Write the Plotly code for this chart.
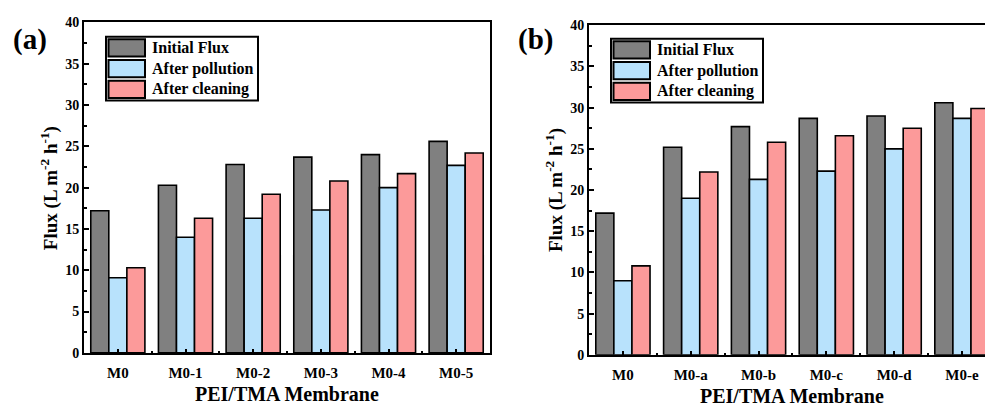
import plotly.graph_objects as go

# ---- data ----
series_names = ["Initial Flux", "After pollution", "After cleaning"]
series_colors = ["#808080", "#B8E2FC", "#FC9A9A"]

categories_a = ["M0", "M0-1", "M0-2", "M0-3", "M0-4", "M0-5"]
initial_a = [17.2, 20.3, 22.8, 23.7, 24.0, 25.6]
pollution_a = [9.1, 14.0, 16.3, 17.3, 20.0, 22.7]
cleaning_a = [10.3, 16.3, 19.2, 20.8, 21.7, 24.2]

categories_b = ["M0", "M0-a", "M0-b", "M0-c", "M0-d", "M0-e"]
initial_b = [17.2, 25.2, 27.7, 28.7, 29.0, 30.6]
pollution_b = [9.0, 19.0, 21.3, 22.3, 25.0, 28.7]
cleaning_b = [10.8, 22.2, 25.8, 26.6, 27.5, 29.9]

y_tick_values = [0, 5, 10, 15, 20, 25, 30, 35, 40]

W, H = 985, 411
SERIF = "Liberation Serif, Times New Roman, DejaVu Serif, serif"


def px(x):
    return x / W


def py(y):
    return 1 - y / H


def font(size):
    return dict(family=SERIF, size=size, color="black", weight="bold")


fig = go.Figure()

panels = [
    ("x", "y", categories_a, [initial_a, pollution_a, cleaning_a]),
    ("x2", "y2", categories_b, [initial_b, pollution_b, cleaning_b]),
]
for xa, ya, cats, series in panels:
    pos = list(range(len(cats)))
    for name, color, vals in zip(series_names, series_colors, series):
        fig.add_trace(go.Bar(
            x=pos, y=vals, name=name, xaxis=xa, yaxis=ya,
            marker=dict(color=color, line=dict(color="black", width=1.6)),
            showlegend=False,
        ))


def x_axis(domain, rng, cats, anchor):
    n = len(cats)
    return dict(
        domain=domain, range=rng, anchor=anchor,
        tickmode="array", tickvals=list(range(n)), ticktext=cats,
        ticks="inside", ticklen=4, tickwidth=1.5, tickcolor="black",
        minor=dict(tickvals=[i + 0.5 for i in range(n)], ticks="inside",
                   ticklen=2, tickwidth=1.5, tickcolor="black"),
        showline=True, linewidth=2, linecolor="black", mirror=True,
        showgrid=False, zeroline=False, tickfont=font(15), fixedrange=True,
        ticklabelstandoff=5,
    )


def y_axis(domain, anchor, mirror):
    return dict(
        domain=domain, range=[0, 40], anchor=anchor,
        tickmode="array", tickvals=y_tick_values,
        ticks="inside", ticklen=5, tickwidth=1.5, tickcolor="black",
        minor=dict(dtick=2.5, tick0=0, ticks="inside", ticklen=3,
                   tickwidth=1.5, tickcolor="black"),
        showline=True, linewidth=2, linecolor="black", mirror=mirror,
        showgrid=False, zeroline=False, tickfont=font(14), fixedrange=True,
    )


fig.update_layout(
    width=W, height=H,
    margin=dict(l=0, r=0, t=0, b=0),
    paper_bgcolor="white", plot_bgcolor="white",
    barmode="group", bargap=0.2, bargroupgap=0,
    xaxis=x_axis([px(84), px(490)], [-0.5, 5.5], categories_a, "y"),
    yaxis=y_axis([py(359), py(16)], "x", True),
    xaxis2=x_axis([px(589), 1.0], [-0.5, 5.34], categories_b, "y2"),
    yaxis2=y_axis([py(361), py(19)], "x2", False),
    showlegend=False,
)

annotations = []
shapes = []


def text(t, x, y, size, xref="paper", xanchor="center", angle=0):
    annotations.append(dict(text=t, x=x, y=y, xref=xref, yref="paper",
                            xanchor=xanchor, yanchor="middle", textangle=angle,
                            showarrow=False, font=font(size)))


# panel letters and axis titles
text("(a)", px(30), py(34), 29)
text("(b)", px(535), py(34), 29)
text("Flux (L m<sup>-2</sup> h<sup>-1</sup>)", px(49), py(188), 19, angle=-90)
text("Flux (L m<sup>-2</sup> h<sup>-1</sup>)", px(554), py(190), 19, angle=-90)
text("PEI/TMA Membrane", 2.5, py(402), 20, xref="x")
text("PEI/TMA Membrane", 2.5, py(404), 20, xref="x2")

# legend boxes (pixel layout)
for bx0, by0 in [(106, 31), (611, 33)]:
    shapes.append(dict(type="rect", xref="paper", yref="paper",
                       x0=px(bx0), x1=px(bx0 + 152), y0=py(by0), y1=py(by0 + 66),
                       line=dict(color="black", width=2), fillcolor="white", layer="above"))
    for i, (name, color) in enumerate(zip(series_names, series_colors)):
        top = by0 + 2.5 + i * 21.5
        shapes.append(dict(type="rect", xref="paper", yref="paper",
                           x0=px(bx0 + 2.5), x1=px(bx0 + 39), y0=py(top), y1=py(top + 18),
                           line=dict(color="black", width=2), fillcolor=color, layer="above"))
        text(name, px(bx0 + 44), py(top + 9), 16, xanchor="left")

fig.update_layout(annotations=annotations, shapes=shapes)

fig.write_html("out.html")
